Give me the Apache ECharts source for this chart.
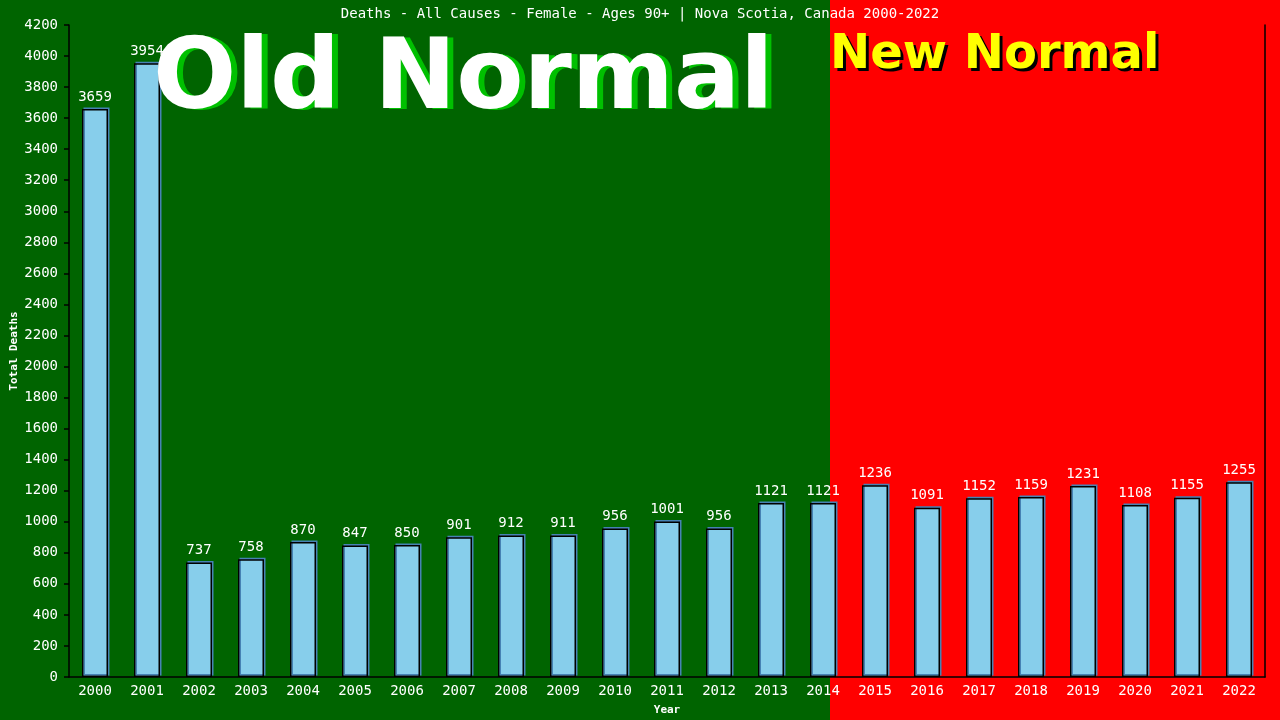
<!DOCTYPE html>
<html>
<head>
<meta charset="utf-8">
<title>Deaths - All Causes - Female - Ages 90+ | Nova Scotia</title>
<script src="https://cdn.jsdelivr.net/npm/echarts@6/dist/echarts.min.js"></script>
<style>
    html, body {margin: 0; padding: 0; background: #006400;}
    #chart {width: 1280px; height: 720px;}
</style>
</head>
<body>
<div id="chart"></div>
<script>
// data
var years = ['2000', '2001', '2002', '2003', '2004', '2005', '2006', '2007', '2008', '2009', '2010', '2011',
    '2012', '2013', '2014', '2015', '2016', '2017', '2018', '2019', '2020', '2021', '2022'];
var deaths = [3659, 3954, 737, 758, 870, 847, 850, 901, 912, 911, 956, 1001,
    956, 1121, 1121, 1236, 1091, 1152, 1159, 1231, 1108, 1155, 1255];
var yMin = 0;
var yMax = 4200;
var yStep = 200;

var mono = '"DejaVu Sans Mono", monospace';
var sans = '"DejaVu Sans", Verdana, sans-serif';

var myChart = echarts.init(document.getElementById('chart'));

myChart.setOption({
    animation: false,
    backgroundColor: '#006400',
    title: {
        text: 'Deaths - All Causes - Female - Ages 90+ | Nova Scotia, Canada 2000-2022',
        left: 'center',
        top: 2,
        textStyle: {color: '#fff', fontFamily: mono, fontSize: 14, fontWeight: 'normal'}
    },
    grid: {left: 69, right: 15, top: 25, bottom: 43, containLabel: false, outerBoundsMode: 'none'},
    xAxis: {
        type: 'category',
        data: years,
        name: 'Year',
        nameLocation: 'middle',
        nameGap: 28,
        nameMoveOverlap: false,
        nameTextStyle: {color: '#fff', fontFamily: mono, fontSize: 11, fontWeight: 'bold'},
        axisLine: {lineStyle: {color: '#000', width: 1.5}},
        axisTick: {show: false},
        axisLabel: {color: '#fff', fontFamily: mono, fontSize: 14, margin: 7}
    },
    yAxis: [
        {
            type: 'value',
            min: yMin,
            max: yMax,
            interval: yStep,
            name: 'Total Deaths',
            nameLocation: 'middle',
            nameGap: 49,
            nameMoveOverlap: false,
            nameTextStyle: {color: '#fff', fontFamily: mono, fontSize: 11, fontWeight: 'bold'},
            splitLine: {show: false},
            axisLine: {show: true, lineStyle: {color: '#000', width: 1.5}},
            axisTick: {show: true, length: 5, lineStyle: {color: '#000', width: 1.5}},
            axisLabel: {
                color: '#fff', fontFamily: mono, fontSize: 14, margin: 11,
                formatter: function (v) { return String(v); }
            }
        },
        {
            type: 'value',
            position: 'right',
            min: yMin,
            max: yMax,
            interval: yStep,
            splitLine: {show: false},
            axisLine: {show: true, lineStyle: {color: '#000', width: 1.5}},
            axisTick: {show: false},
            axisLabel: {show: false}
        }
    ],
    series: [
        {
            name: 'Total Deaths',
            type: 'bar',
            data: deaths,
            barWidth: '50%',
            z: 5,
            itemStyle: {
                color: '#87ceeb',
                borderColor: '#000',
                borderWidth: 1.5,
                shadowColor: '#4682b4',
                shadowBlur: 0,
                shadowOffsetX: 1.5,
                shadowOffsetY: -1.5
            },
            label: {
                show: true,
                position: 'top',
                distance: 5,
                color: '#fff',
                fontFamily: mono,
                fontSize: 14
            }
        }
    ],
    graphic: [
        // era backgrounds
        {type: 'rect', z: -10, silent: true, shape: {x: 0, y: 0, width: 830, height: 720}, style: {fill: '#006400'}},
        {type: 'rect', z: -10, silent: true, shape: {x: 830, y: 0, width: 450, height: 720}, style: {fill: '#ff0000'}},
        // "Old Normal" with green shadow
        {type: 'text', z: 100, silent: true, left: 159, top: 35,
            style: {text: 'Old Normal', fill: '#00c000', font: 'bold 98px ' + sans}},
        {type: 'text', z: 101, silent: true, left: 153, top: 34,
            style: {text: 'Old Normal', fill: '#fff', font: 'bold 98px ' + sans}},
        // "New Normal" with black shadow
        {type: 'text', z: 100, silent: true, left: 833, top: 35,
            style: {text: 'New Normal', fill: '#000', font: 'bold 48px ' + sans}},
        {type: 'text', z: 101, silent: true, left: 830, top: 32,
            style: {text: 'New Normal', fill: '#ffff00', font: 'bold 48px ' + sans}}
    ]
});
</script>
</body>
</html>
